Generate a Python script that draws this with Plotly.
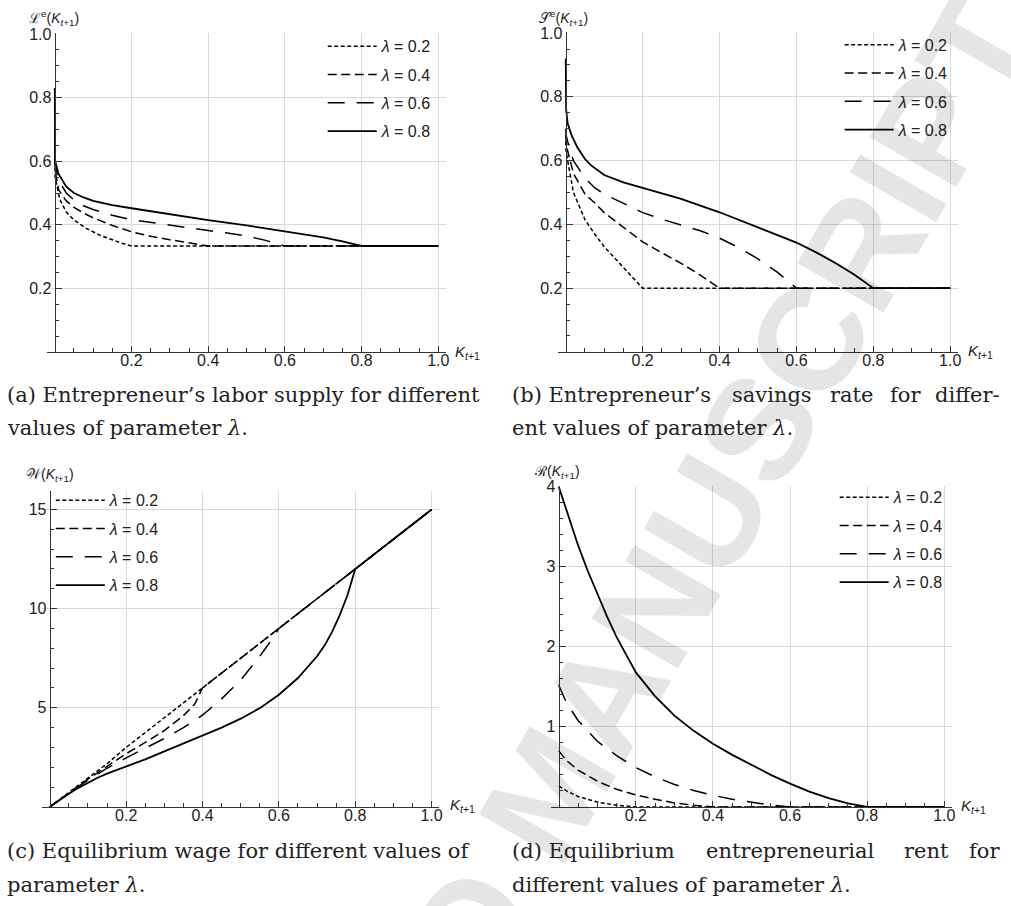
import plotly.graph_objects as go

FIG_W, FIG_H = 1011, 906

LAMBDA_LABELS = ["<i>λ</i> = 0.2", "<i>λ</i> = 0.4", "<i>λ</i> = 0.6", "<i>λ</i> = 0.8"]

# ---------------- (a) entrepreneur's labour supply ----------------
A_K_02 = [0.0, 0.001, 0.013, 0.03, 0.05, 0.08, 0.12, 0.15, 0.175, 0.2, 1.0]
A_Y_02 = [0.62, 0.55, 0.48, 0.44, 0.415, 0.39, 0.366, 0.352, 0.342, 0.3333, 0.3333]
A_K_04 = [0.0, 0.001, 0.01, 0.03, 0.05, 0.075, 0.1, 0.15, 0.2, 0.25, 0.3, 0.35, 0.4, 1.0]
A_Y_04 = [0.65, 0.57, 0.51, 0.475, 0.455, 0.437, 0.422, 0.398, 0.378, 0.364, 0.353, 0.343, 0.3333, 0.3333]
A_K_06 = [0.0, 0.001, 0.01, 0.03, 0.05, 0.075, 0.1, 0.15, 0.2, 0.3, 0.4, 0.45, 0.5, 0.55, 0.6, 1.0]
A_Y_06 = [0.7, 0.59, 0.54, 0.5, 0.478, 0.46, 0.448, 0.43, 0.416, 0.398, 0.382, 0.374, 0.365, 0.351, 0.3333, 0.3333]
A_K_08 = [0.0, 0.001, 0.01, 0.03, 0.05, 0.075, 0.1, 0.15, 0.2, 0.3, 0.4, 0.5, 0.6, 0.65, 0.7, 0.75, 0.8, 1.0]
A_Y_08 = [0.83, 0.6, 0.56, 0.52, 0.5, 0.486, 0.475, 0.462, 0.452, 0.433, 0.415, 0.398, 0.38, 0.3705, 0.3605, 0.348, 0.3333, 0.3333]

# ---------------- (b) entrepreneur's savings rate ----------------
B_K_02 = [0.0, 0.001, 0.005, 0.02, 0.05, 0.075, 0.1, 0.15, 0.2, 1.0]
B_Y_02 = [0.66, 0.63, 0.6, 0.5, 0.415, 0.37, 0.33, 0.265, 0.2, 0.2]
B_K_04 = [0.0, 0.001, 0.005, 0.02, 0.05, 0.075, 0.1, 0.15, 0.2, 0.25, 0.3, 0.35, 0.4, 1.0]
B_Y_04 = [0.68, 0.66, 0.63, 0.56, 0.495, 0.468, 0.437, 0.39, 0.345, 0.311, 0.278, 0.241, 0.2, 0.2]
B_K_06 = [0.0, 0.001, 0.005, 0.02, 0.05, 0.075, 0.1, 0.15, 0.2, 0.25, 0.3, 0.35, 0.4, 0.45, 0.5, 0.55, 0.6, 1.0]
B_Y_06 = [0.7, 0.68, 0.66, 0.6, 0.545, 0.515, 0.495, 0.465, 0.437, 0.416, 0.398, 0.38, 0.357, 0.327, 0.292, 0.25, 0.2, 0.2]
B_K_08 = [0.0, 0.001, 0.005, 0.015, 0.03, 0.05, 0.066, 0.1, 0.15, 0.2, 0.3, 0.4, 0.5, 0.55, 0.6, 0.65, 0.7, 0.75, 0.8, 1.0]
B_Y_08 = [0.92, 0.76, 0.716, 0.68, 0.642, 0.605, 0.585, 0.555, 0.532, 0.514, 0.48, 0.438, 0.39, 0.367, 0.343, 0.313, 0.28, 0.243, 0.2, 0.2]

# ---------------- (c) equilibrium wage ----------------
C_K_02 = [0.0, 0.05, 0.1, 0.15, 0.2, 1.0]
C_Y_02 = [0.0, 0.73, 1.45, 2.18, 3.0, 15.0]
C_K_04 = [0.0, 0.05, 0.1, 0.15, 0.2, 0.25, 0.3, 0.35, 0.38, 0.4, 1.0]
C_Y_04 = [0.0, 0.72, 1.4, 2.05, 2.68, 3.25, 3.85, 4.6, 5.2, 6.0, 15.0]
C_K_06 = [0.0, 0.05, 0.1, 0.15, 0.2, 0.25, 0.3, 0.35, 0.4, 0.45, 0.5, 0.55, 0.58, 0.6, 1.0]
C_Y_06 = [0.0, 0.7, 1.35, 1.95, 2.47, 2.96, 3.45, 4.0, 4.63, 5.45, 6.4, 7.6, 8.4, 9.0, 15.0]
C_K_08 = [0.0, 0.025, 0.05, 0.075, 0.1, 0.125, 0.15, 0.175, 0.2, 0.25, 0.3, 0.35, 0.4, 0.45, 0.5,
          0.55, 0.6, 0.65, 0.7, 0.72, 0.74, 0.76, 0.78, 0.8, 1.0]
C_Y_08 = [0.0, 0.34, 0.66, 0.96, 1.23, 1.47, 1.68, 1.86, 2.02, 2.4, 2.8, 3.2, 3.6, 4.0, 4.45,
          4.98, 5.66, 6.5, 7.6, 8.15, 8.85, 9.7, 10.7, 12.0, 15.0]

# ---------------- (d) entrepreneurial rent ----------------
D_K_02 = [0.0, 0.02, 0.05, 0.1, 0.15, 0.2, 1.0]
D_Y_02 = [0.26, 0.2, 0.13, 0.06, 0.02, 0.0, 0.0]
D_K_04 = [0.0, 0.02, 0.05, 0.1, 0.15, 0.2, 0.25, 0.3, 0.35, 0.4, 1.0]
D_Y_04 = [0.7, 0.58, 0.46, 0.32, 0.22, 0.15, 0.095, 0.05, 0.02, 0.0, 0.0]
D_K_06 = [0.0, 0.02, 0.05, 0.1, 0.15, 0.2, 0.25, 0.3, 0.35, 0.4, 0.45, 0.5, 0.55, 0.6, 1.0]
D_Y_06 = [1.52, 1.3, 1.08, 0.82, 0.64, 0.49, 0.375, 0.28, 0.205, 0.145, 0.095, 0.056, 0.024, 0.0, 0.0]
D_K_08 = [0.0, 0.025, 0.05, 0.075, 0.1, 0.125, 0.15, 0.175, 0.2, 0.25, 0.3, 0.35, 0.4, 0.45, 0.5,
          0.55, 0.6, 0.65, 0.7, 0.75, 0.8, 1.0]
D_Y_08 = [4.0, 3.63, 3.27, 2.95, 2.66, 2.38, 2.12, 1.89, 1.68, 1.38, 1.14, 0.95, 0.79, 0.65, 0.52,
          0.4, 0.29, 0.19, 0.11, 0.045, 0.0, 0.0]

X_TICKS = [0.2, 0.4, 0.6, 0.8, 1.0]
Y_TICKS_AB = [0.2, 0.4, 0.6, 0.8, 1.0]
Y_TICKS_C = [5, 10, 15]
Y_TICKS_D = [1, 2, 3, 4]

SANS = "Liberation Sans"
SERIF = "DejaVu Serif"
TXT = "#222222"
AXC = "#333333"
GRID = "#d9d9d9"

DASHES = ["4px,2.5px", "9px,4.5px", "17px,12px", "solid"]
WIDTHS = [1.5, 1.5, 1.5, 1.8]

# panel geometry in pixels: K=0 position, px per K unit, y=0 position, px per y unit, y max
PANELS = [
    dict(x0=55, xu=385.0, yb=347, yu=320.7, ymax=1.002, ticks=Y_TICKS_AB, ydt=0.05),
    dict(x0=568, xu=386.0, yb=347, yu=321.7, ymax=1.002, ticks=Y_TICKS_AB, ydt=0.05),
    dict(x0=50, xu=383.3, yb=806, yu=20.0, ymax=15.95, ticks=Y_TICKS_C, ydt=1.0),
    dict(x0=561, xu=387.0, yb=806, yu=80.75, ymax=4.008, ticks=Y_TICKS_D, ydt=0.2),
]
XMIN, XMAX = -0.02, 1.02

DATA = [
    [(A_K_02, A_Y_02), (A_K_04, A_Y_04), (A_K_06, A_Y_06), (A_K_08, A_Y_08)],
    [(B_K_02, B_Y_02), (B_K_04, B_Y_04), (B_K_06, B_Y_06), (B_K_08, B_Y_08)],
    [(C_K_02, C_Y_02), (C_K_04, C_Y_04), (C_K_06, C_Y_06), (C_K_08, C_Y_08)],
    [(D_K_02, D_Y_02), (D_K_04, D_Y_04), (D_K_06, D_Y_06), (D_K_08, D_Y_08)],
]

fig = go.Figure()
layout = dict(
    width=FIG_W, height=FIG_H,
    margin=dict(l=0, r=0, t=0, b=0),
    paper_bgcolor="white", plot_bgcolor="white",
    font=dict(family=SANS, size=16, color=TXT),
    showlegend=True,
)

LEGEND_POS = [  # text-start x px, first row centre y px
    (383, 47.5), (902, 46.0), (110, 505.5), (897, 502.5)
]

for i, (p, series) in enumerate(zip(PANELS, DATA)):
    sfx = "" if i == 0 else str(i + 1)
    xa, ya = "x" + sfx, "y" + sfx
    lg = "legend" + sfx
    for j, (k, v) in enumerate(series):
        fig.add_trace(go.Scatter(
            x=k, y=v, mode="lines", name=LAMBDA_LABELS[j],
            line=dict(color="black", width=WIDTHS[j], dash=DASHES[j]),
            xaxis=xa, yaxis=ya, legend=lg, legendgroup=f"g{i}{j}",
            hoverinfo="skip",
        ))
    x_left = p["x0"] + XMIN * p["xu"]
    x_right = p["x0"] + XMAX * p["xu"]
    y_top = p["yb"] - p["ymax"] * p["yu"]
    ymin_minor = [round(p["ydt"] * n, 4) for n in range(1, int(round(p["ymax"] / p["ydt"])) + 1)]
    ymin_minor = [t for t in ymin_minor if all(abs(t - m) > 1e-6 for m in p["ticks"]) and t <= p["ymax"]]
    xmin_minor = [round(0.05 * n, 4) for n in range(1, 21)]
    xmin_minor = [t for t in xmin_minor if all(abs(t - m) > 1e-6 for m in X_TICKS)]
    layout["xaxis" + sfx] = dict(
        domain=[x_left / FIG_W, x_right / FIG_W], range=[XMIN, XMAX],
        anchor=ya, showline=True, linecolor=AXC, linewidth=1.2,
        ticks="inside", ticklen=6, tickcolor=AXC, tickwidth=1,
        tickmode="array", tickvals=X_TICKS, ticktext=[f"{t:.1f}" for t in X_TICKS],
        showgrid=True, gridcolor=GRID, gridwidth=1, zeroline=False,
        tickfont=dict(family=SANS, size=16, color=TXT),
        ticklabelstandoff=-6,
        minor=dict(tickmode="array", tickvals=xmin_minor, ticks="inside", ticklen=3.5,
                   tickcolor=AXC, showgrid=False),
    )
    ytext = [f"{t:.1f}" if p["ymax"] < 2 else f"{t:g}" for t in p["ticks"]]
    layout["yaxis" + sfx] = dict(
        domain=[1 - p["yb"] / FIG_H, 1 - y_top / FIG_H], range=[0, p["ymax"]],
        anchor="free", position=p["x0"] / FIG_W,
        showline=True, linecolor=AXC, linewidth=1.2,
        ticks="inside", ticklen=6, tickcolor=AXC, tickwidth=1,
        tickmode="array", tickvals=p["ticks"], ticktext=ytext,
        showgrid=True, gridcolor=GRID, gridwidth=1, zeroline=False,
        tickfont=dict(family=SANS, size=16, color=TXT),
        minor=dict(tickmode="array", tickvals=ymin_minor, ticks="inside", ticklen=3.5,
                   tickcolor=AXC, showgrid=False),
    )
    tx, ty = LEGEND_POS[i]
    layout[lg] = dict(
        x=(tx - 59) / FIG_W, y=1 - (ty - 26) / FIG_H, xanchor="left", yanchor="top",
        xref="paper", yref="paper",
        bgcolor="rgba(0,0,0,0)", borderwidth=0, itemwidth=49,
        traceorder="grouped", tracegroupgap=4.5,
        font=dict(family=SANS, size=16, color=TXT),
    )

fig.update_layout(**layout)


def ann(text, xpx, ypx, size, family=SANS, xanchor="center", yanchor="middle", color=TXT, angle=0):
    return dict(text=text, x=xpx / FIG_W, y=1 - ypx / FIG_H, xref="paper", yref="paper",
                showarrow=False, xanchor=xanchor, yanchor=yanchor, textangle=angle,
                font=dict(family=family, size=size, color=color))


KLAB = "<i>K</i><sub><i>t</i>+1</sub>"
CAP = 21
annotations = [
    # watermark of the accepted manuscript
    ann("<b>ACCEPTED MANUSCRIPT</b>", 552, 790, 145, family=SANS, color="rgba(0,0,0,0.10)", angle=-60),
    # x-axis labels
    ann(KLAB, 469, 348, 15), ann(KLAB, 984, 347, 15), ann(KLAB, 464, 805, 15), ann(KLAB, 977, 806, 15),
    # y-axis labels
    ann("ℒ<sup>e</sup>(" + KLAB + ")", 54, 10, 14),
    ann("𝒮<sup>e</sup>(" + KLAB + ")", 566, 10, 14),
    ann("𝒲(" + KLAB + ")", 50, 471, 14),
    ann("ℛ(" + KLAB + ")", 559, 468, 14),
    # captions
    ann("(a) Entrepreneur’s labor supply for different", 5, 390, CAP, family=SERIF, xanchor="left"),
    ann("values of parameter <i>λ</i>.", 5, 424, CAP, family=SERIF, xanchor="left"),
    ann("(b) Entrepreneur’s", 512, 390, CAP, family=SERIF, xanchor="left"),
    ann("savings", 733, 390, CAP, family=SERIF, xanchor="left"),
    ann("rate", 831, 390, CAP, family=SERIF, xanchor="left"),
    ann("for", 892, 390, CAP, family=SERIF, xanchor="left"),
    ann("differ-", 1006, 390, CAP, family=SERIF, xanchor="right"),
    ann("ent values of parameter <i>λ</i>.", 512, 424, CAP, family=SERIF, xanchor="left"),
    ann("(c) Equilibrium wage for different values of", 5, 851, CAP, family=SERIF, xanchor="left"),
    ann("parameter <i>λ</i>.", 5, 885, CAP, family=SERIF, xanchor="left"),
    ann("(d) Equilibrium", 512, 851, CAP, family=SERIF, xanchor="left"),
    ann("entrepreneurial", 707, 851, CAP, family=SERIF, xanchor="left"),
    ann("rent", 906, 851, CAP, family=SERIF, xanchor="left"),
    ann("for", 1006, 851, CAP, family=SERIF, xanchor="right"),
    ann("different values of parameter <i>λ</i>.", 512, 885, CAP, family=SERIF, xanchor="left"),
]
fig.update_layout(annotations=annotations)

fig.write_html("out.html")
